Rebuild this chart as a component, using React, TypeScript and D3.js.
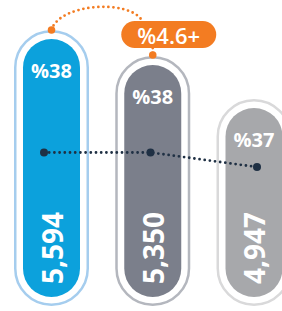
import React from "react";
import * as d3 from "d3";

const categories = ["1", "2", "3"];
const values = [5594, 5350, 4947];
const percents = [38, 38, 37];
const changePct = [4.6];

const fills = ["#0ca1dc", "#7b7f8b", "#a7a8ab"];
const outlines = ["#a5cdee", "#b4b7be", "#d9d9da"];
const ORANGE = "#f37c22";
const NAVY = "#1f3044";

export default function App() {
  const W = 282, H = 311;
  const bottom = 297;
  const innerW = 57;
  const gap = 9;

  const x = d3.scalePoint<string>().domain(categories).range([51.5, 254]);
  const y = d3.scaleLinear().domain([4947, 5594]).range([108, 39]);
  const xDot = d3.scalePoint<string>().domain(categories).range([44, 257]);
  const yDot = d3.scaleLinear().domain([37, 38]).range([167, 152.5]);
  const fmt = d3.format(",");

  const dotLine = d3
    .line<number>()
    .x((_, i) => xDot(categories[i]) as number)
    .y((d) => yDot(d));

  const cx1 = x(categories[0]) as number;
  const cx2 = x(categories[1]) as number;
  const top1 = y(values[0]) - gap;
  const top2 = y(values[1]) - gap;
  const pillW = 95, pillH = 27;
  const pillCx = cx2 + 16, pillCy = 34.5;
  const pillX = pillCx - pillW / 2, pillY = pillCy - pillH / 2;
  const arcEndX = pillX + 21, arcEndY = pillY;
  const arcPath = d3.path();
  arcPath.moveTo(cx1, top1);
  arcPath.bezierCurveTo(cx1 + 8, top1 - 27, arcEndX - 12, arcEndY - 22, arcEndX, arcEndY);

  return (
    <svg
      width={W}
      height={H}
      style={{ position: "absolute", left: 0, top: 0, display: "block" }}
      fontFamily="'Open Sans', sans-serif"
    >
      <rect width={W} height={H} fill="#fff" />
      {categories.map((c, i) => {
        const cx = x(c) as number;
        const t = y(values[i]);
        const oTop = t - gap;
        const oBottom = bottom + gap;
        const sw = 2.5;
        const ow = innerW + 2 * gap;
        return (
          <g key={c}>
            <rect
              x={cx - ow / 2 + sw / 2}
              y={oTop + sw / 2}
              width={ow - sw}
              height={oBottom - oTop - sw}
              rx={(ow - sw) / 2}
              fill="#fff"
              stroke={outlines[i]}
              strokeWidth={sw}
            />
            <rect
              x={cx - innerW / 2}
              y={t}
              width={innerW}
              height={bottom - t}
              rx={innerW / 2}
              fill={fills[i]}
            />
            <text
              x={cx}
              y={t + 31}
              textAnchor="middle"
              dominantBaseline="central"
              fill="#fff"
              fontSize={20}
              fontWeight={700}
            >
              {`%${percents[i]}`}
            </text>
            <text
              transform={`translate(${cx},${bottom - 13}) rotate(-90)`}
              textAnchor="start"
              dominantBaseline="central"
              fill="#fff"
              fontSize={28}
              fontWeight={700}
            >
              {fmt(values[i])}
            </text>
          </g>
        );
      })}

      <path
        d={dotLine(percents) || ""}
        fill="none"
        stroke={NAVY}
        strokeWidth={2.8}
        strokeDasharray="0 5.2"
        strokeLinecap="round"
      />
      {percents.map((p, i) => (
        <circle key={i} cx={xDot(categories[i]) as number} cy={yDot(p)} r={4} fill={NAVY} />
      ))}

      <path
        d={arcPath.toString()}
        fill="none"
        stroke={ORANGE}
        strokeWidth={2.8}
        strokeDasharray="0 5"
        strokeLinecap="round"
      />
      <line
        x1={cx2}
        x2={cx2}
        y1={pillY + pillH}
        y2={top2}
        stroke={ORANGE}
        strokeWidth={2.8}
        strokeDasharray="0 5"
        strokeLinecap="round"
      />
      <circle cx={cx1} cy={top1} r={3.8} fill={ORANGE} />
      <circle cx={cx2} cy={top2 - 1} r={3.8} fill={ORANGE} />
      <rect x={pillX} y={pillY} width={pillW} height={pillH} rx={pillH / 2} fill={ORANGE} />
      <text
        x={pillCx}
        y={pillCy}
        textAnchor="middle"
        dominantBaseline="central"
        fill="#fff"
        fontSize={22}
        fontWeight={600}
      >
        {`%${changePct[0]}+`}
      </text>
    </svg>
  );
}
